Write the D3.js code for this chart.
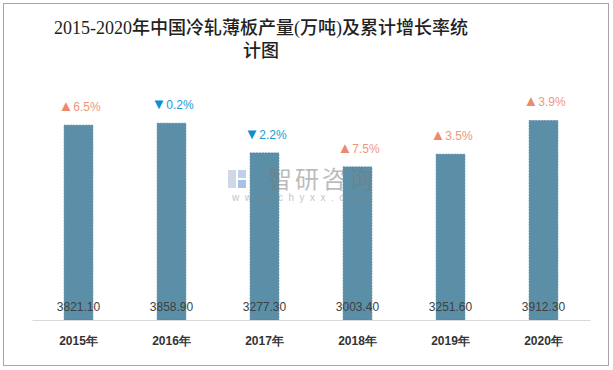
<!DOCTYPE html>
<meta charset="utf-8">
<head>
<style>
  body { margin: 0; background: #fff; }
  svg { display: block; font-family: "Liberation Sans", "Noto Sans CJK SC", sans-serif; }
</style>
</head>
<body>
<svg width="613" height="370"></svg>

<script src="https://cdn.jsdelivr.net/npm/d3@7"></script>
<script>
var years = ["2015年", "2016年", "2017年", "2018年", "2019年", "2020年"];
var output = [3821.10, 3858.90, 3277.30, 3003.40, 3251.60, 3912.30];
var growth = [6.5, -0.2, -2.2, 7.5, 3.5, 3.9];

var data = years.map(function(d, i) {
  return {year: d, value: output[i], growth: growth[i]};
});

var svg = d3.select("svg");

// outer frame
svg.append("rect")
    .attr("x", 3.5).attr("y", 3.5)
    .attr("width", 605).attr("height", 362)
    .attr("fill", "#fff")
    .attr("stroke", "#a6a6a6")
    .attr("stroke-width", 1);

// title
var title = svg.append("text")
    .attr("text-anchor", "middle")
    .attr("fill", "#222")
    .style("font-family", "'Liberation Serif', 'Noto Sans CJK SC', serif")
    .style("font-size", "18px")
    .style("font-weight", "500");
title.append("tspan").attr("x", 261).attr("y", 34).text("2015-2020年中国冷轧薄板产量(万吨)及累计增长率统");
title.append("tspan").attr("x", 261).attr("y", 57).text("计图");

var x = d3.scaleBand().domain(years).range([32, 590]).paddingInner(0.69).paddingOuter(0.345),
    y = d3.scaleLinear().domain([0, 5000]).range([320, 65]);

// bars
svg.append("g")
  .selectAll("rect")
  .data(data)
  .enter().append("rect")
    .attr("x", function(d) { return x(d.year); })
    .attr("y", function(d) { return y(d.value); })
    .attr("width", x.bandwidth())
    .attr("height", function(d) { return y(0) - y(d.value); })
    .attr("fill", "#5b8fa8")
    .attr("stroke", "#4d7f98")
    .attr("stroke-width", 0.6)
    .attr("stroke-dasharray", "2,1");

// watermark, drawn over the bars
var wm = svg.append("g").attr("opacity", 0.5);
wm.append("rect").attr("x", 228).attr("y", 170).attr("width", 8).attr("height", 18).attr("fill", "#9fb3cf");
wm.append("rect").attr("x", 238).attr("y", 170).attr("width", 8).attr("height", 8).attr("fill", "#7fa3d6");
wm.append("rect").attr("x", 238).attr("y", 180).attr("width", 8).attr("height", 8).attr("fill", "#4f86d1");
wm.append("text").attr("x", 268).attr("y", 188)
    .attr("fill", "#7a7a7a")
    .style("font-size", "24px")
    .style("letter-spacing", "3px")
    .text("智研咨询");
wm.append("text").attr("x", 232).attr("y", 201)
    .attr("fill", "#8a8a8a")
    .style("font-size", "10px")
    .style("letter-spacing", "5.5px")
    .text("www.chyxx.com");

// x axis
var xAxis = svg.append("g")
    .attr("transform", "translate(0,320)")
    .call(d3.axisBottom(x).tickSize(0).tickPadding(16));
xAxis.select(".domain").attr("stroke", "#d9d9d9");
xAxis.selectAll("text")
    .attr("fill", "#333")
    .style("font-size", "12px")
    .style("font-weight", "bold");

// values inside bars
svg.append("g")
  .selectAll("text")
  .data(data)
  .enter().append("text")
    .attr("x", function(d) { return x(d.year) + x.bandwidth() / 2; })
    .attr("y", 311)
    .attr("text-anchor", "middle")
    .attr("fill", "#404040")
    .style("font-size", "12px")
    .text(function(d) { return d.value.toFixed(2); });

// growth labels
var gl = svg.append("g")
  .selectAll("text")
  .data(data)
  .enter().append("text")
    .attr("x", function(d) { return x(d.year) + x.bandwidth() / 2 + 1; })
    .attr("y", function(d) { return y(d.value) - 14; })
    .attr("text-anchor", "middle")
    .style("font-size", "12px");
gl.append("tspan")
    .attr("fill", function(d) { return d.growth >= 0 ? "#ee8a6c" : "#0e8fd0"; })
    .style("font-size", "15px")
    .text(function(d) { return d.growth >= 0 ? "▲" : "▼"; });
gl.append("tspan")
    .attr("fill", function(d) { return d.growth >= 0 ? "#f0967c" : "#1a9ad6"; })
    .text(function(d) { return Math.abs(d.growth).toFixed(1) + "%"; });
</script>
</body>
